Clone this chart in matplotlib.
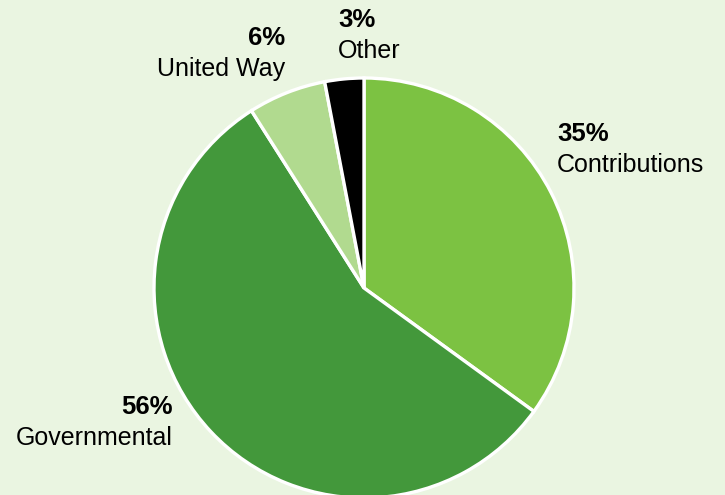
import matplotlib.pyplot as plt

categories = ["Contributions", "Governmental", "United Way", "Other"]
shares = [35, 56, 6, 3]
colors = ["#7cc242", "#43983b", "#b1da8f", "#000000"]

plt.rcParams['font.family'] = ['Liberation Sans', 'DejaVu Sans']

fig = plt.figure(figsize=(7.25, 4.95), dpi=100)
fig.patch.set_facecolor("#eaf5e1")
ax = fig.add_axes([0, 0, 1, 1])
ax.set_facecolor("#eaf5e1")

ax.pie(shares, colors=colors, startangle=90, counterclock=False,
       center=(364, 207), radius=210,
       wedgeprops=dict(edgecolor="white", linewidth=2.4))
ax.set_xlim(0, 725)
ax.set_ylim(0, 495)
ax.set_aspect("equal")
ax.axis("off")

# label positions (pixel coords, y up)
label_pos = {
    "Contributions": (557, 361, "left"),
    "Governmental": (173, 88, "right"),
    "United Way": (285, 457, "right"),
    "Other": (338, 475, "left"),
}
for cat, val in zip(categories, shares):
    x, y, ha = label_pos[cat]
    ax.text(x, y, f"{val}%", ha=ha, va="center", fontsize=18.5, fontweight="bold")
    ax.text(x, y - 31, cat, ha=ha, va="center", fontsize=18)

fig.savefig("out.png", dpi=100, facecolor=fig.get_facecolor())
